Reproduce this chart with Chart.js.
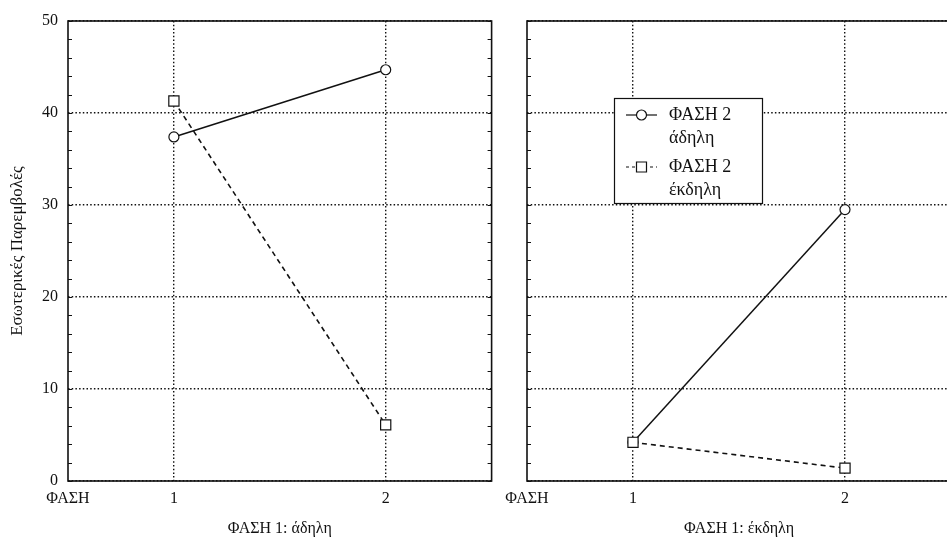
<!DOCTYPE html>
<html>
<head>
<meta charset="utf-8">
<script src="https://cdn.jsdelivr.net/npm/chart.js@4.4.1/dist/chart.umd.min.js"></script>
<style>
  html, body { margin: 0; padding: 0; background: #fff; overflow: hidden; }
  body { width: 947px; height: 538px; position: relative; }
  canvas { position: absolute; top: 0; }
  #leftChart { left: 0; }
  #rightChart { left: 480px; }
</style>
</head>
<body>
<canvas id="leftChart" width="500" height="538"></canvas>
<canvas id="rightChart" width="480" height="538"></canvas>
<script>
// categories on the x axis (ΦΑΣΗ 2 levels) and the tick labels
const xValues = [1, 2];
const xTicks = [0.5, 1, 2];
const xTickLabels = { 0.5: 'ΦΑΣΗ', 1: '1', 2: '2' };
const yTicks = [0, 10, 20, 30, 40, 50];

// series names, each split in two lines as in the legend
const seriesNames = [['ΦΑΣΗ 2', 'άδηλη'], ['ΦΑΣΗ 2', 'έκδηλη']];

// panel titles
const panelTitles = ['ΦΑΣΗ 1: άδηλη', 'ΦΑΣΗ 1: έκδηλη'];
const yTitle = 'Εσωτερικές Παρεμβολές';

// values
const leftAdili = [37.4, 44.7];
const leftEkdili = [41.3, 6.1];
const rightAdili = [4.2, 29.5];
const rightEkdili = [4.2, 1.4];

const FONT = "'Liberation Serif', 'DejaVu Serif', serif";
const INK = '#111';
const DOTS = [1.5, 2.2];

// frame round the plot area plus little inside ticks every 2 units
const framePlugin = {
  id: 'frame',
  afterDatasetsDraw(chart) {
    const { ctx, chartArea: a, scales } = chart;
    ctx.save();
    ctx.strokeStyle = INK;
    ctx.lineWidth = 1.6;
    ctx.setLineDash([]);
    ctx.strokeRect(a.left, a.top, a.right - a.left, a.bottom - a.top);
    ctx.lineWidth = 1;
    for (let v = 0; v <= 50; v += 2) {
      const y = Math.round(scales.y.getPixelForValue(v)) + 0.5;
      ctx.beginPath();
      ctx.moveTo(a.left, y); ctx.lineTo(a.left + 4, y);
      ctx.moveTo(a.right, y); ctx.lineTo(a.right - 4, y);
      ctx.stroke();
    }
    ctx.restore();
  }
};

// boxed legend with two-line entries
const boxLegend = {
  id: 'boxLegend',
  afterDraw(chart, args, opts) {
    if (!opts.show) return;
    const { ctx, chartArea: a } = chart;
    const x0 = a.left + 87, y0 = a.top + 77, w = 148, h = 105;
    ctx.save();
    ctx.fillStyle = '#fff';
    ctx.fillRect(x0, y0, w, h);
    ctx.strokeStyle = INK;
    ctx.lineWidth = 1.2;
    ctx.strokeRect(x0 + 0.5, y0 + 0.5, w, h);
    ctx.font = '18px ' + FONT;
    ctx.fillStyle = INK;
    ctx.textBaseline = 'middle';
    chart.data.datasets.forEach((ds, i) => {
      const lines = seriesNames[i];
      const yy = y0 + 17 + i * 52;
      ctx.strokeStyle = INK;
      ctx.lineWidth = 1.2;
      ctx.setLineDash(ds.borderDash ? [3, 3] : []);
      ctx.beginPath();
      ctx.moveTo(x0 + 12, yy); ctx.lineTo(x0 + 43, yy);
      ctx.stroke();
      ctx.setLineDash([]);
      ctx.fillStyle = '#fff';
      ctx.beginPath();
      if (ds.pointStyle === 'rect') {
        ctx.rect(x0 + 22.5, yy - 5, 10, 10);
      } else {
        ctx.arc(x0 + 27.5, yy, 5, 0, Math.PI * 2);
      }
      ctx.fill(); ctx.stroke();
      ctx.fillStyle = INK;
      ctx.fillText(lines[0], x0 + 55, yy);
      ctx.fillText(lines[1], x0 + 55, yy + 23);
    });
    ctx.restore();
  }
};

function makeChart(id, adili, ekdili, opts) {
  return new Chart(document.getElementById(id), {
    type: 'line',
    data: {
      datasets: [
        {
          label: seriesNames[0].join(' '),
          data: xValues.map((x, i) => ({ x, y: adili[i] })),
          borderColor: INK, borderWidth: 1.5,
          pointStyle: 'circle', pointRadius: 5,
          pointBackgroundColor: '#fff', pointBorderColor: INK, pointBorderWidth: 1.2,
          order: 1
        },
        {
          label: seriesNames[1].join(' '),
          data: xValues.map((x, i) => ({ x, y: ekdili[i] })),
          borderColor: INK, borderWidth: 1.6, borderDash: [5, 4],
          pointStyle: 'rect', pointRadius: 7.2,
          pointBackgroundColor: '#fff', pointBorderColor: INK, pointBorderWidth: 1.2,
          order: 0
        }
      ]
    },
    options: {
      responsive: false,
      animation: false,
      layout: { padding: { top: 21, right: opts.padRight, left: 0, bottom: 0 } },
      plugins: {
        legend: { display: false },
        tooltip: { enabled: false },
        boxLegend: { show: opts.legend }
      },
      scales: {
        x: {
          type: 'linear', min: 0.5, max: 2.5,
          afterBuildTicks: (s) => { s.ticks = xTicks.map(v => ({ value: v })); },
          afterFit: (s) => { s.height = 57; },
          ticks: {
            autoSkip: false, maxRotation: 0, padding: 8,
            color: INK, font: { family: FONT, size: 16 },
            callback: (v) => xTickLabels[v]
          },
          grid: {
            drawTicks: false,
            color: (c) => c.tick && c.tick.value === 0.5 ? 'transparent' : INK,
            lineWidth: 1.4
          },
          border: { display: false, dash: DOTS },
          title: {
            display: true, text: opts.title, color: INK,
            font: { family: FONT, size: 16 }, padding: { top: 0, bottom: 0 }
          }
        },
        y: {
          min: 0, max: 50,
          afterBuildTicks: (s) => { s.ticks = yTicks.map(v => ({ value: v })); },
          afterFit: (s) => { s.width = opts.yWidth; },
          ticks: {
            display: opts.yLabels, padding: 10,
            color: INK, font: { family: FONT, size: 16 }
          },
          grid: { drawTicks: false, color: INK, lineWidth: 1.4 },
          border: { display: false, dash: DOTS },
          title: {
            display: opts.yLabels, text: yTitle, color: INK,
            font: { family: FONT, size: 17 }, padding: { top: 7, bottom: 0 }
          }
        }
      }
    },
    plugins: [framePlugin, boxLegend]
  });
}

makeChart('leftChart', leftAdili, leftEkdili,
  { title: panelTitles[0], yWidth: 68, padRight: 5, yLabels: true, legend: false });
makeChart('rightChart', rightAdili, rightEkdili,
  { title: panelTitles[1], yWidth: 47, padRight: 9, yLabels: false, legend: true });
</script>
</body>
</html>
